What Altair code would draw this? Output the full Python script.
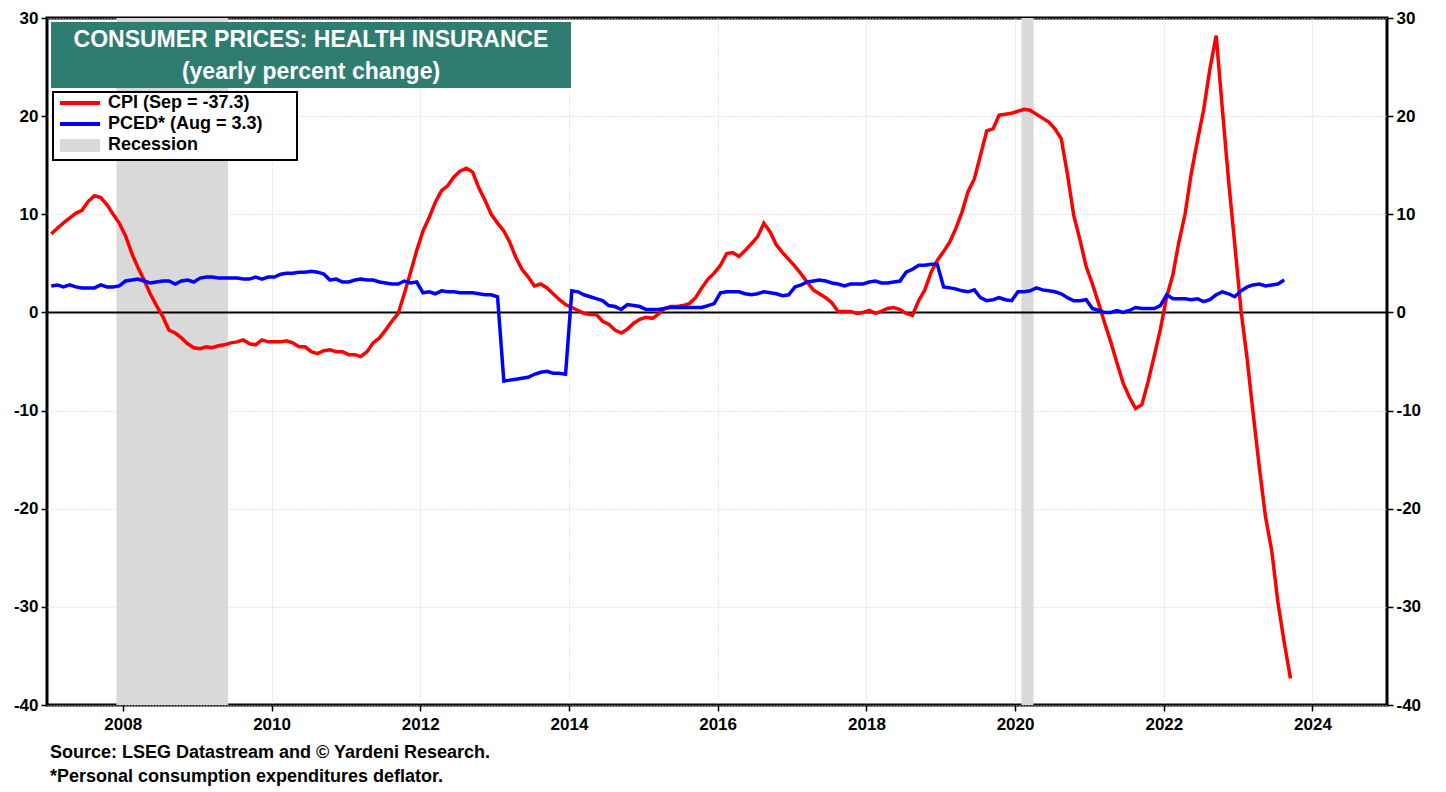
import altair as alt
import pandas as pd

# ---------------- data ----------------
cpi_2007 = [8.0, 8.6, 9.1, 9.6, 10.1, 10.4, 11.3, 11.9, 11.7, 11.0, 10.0, 9.1]
cpi_2008 = [7.8, 6.0, 4.6, 3.3, 1.9, 0.7, -0.4, -1.8, -2.1, -2.6, -3.2, -3.6]
cpi_2009 = [-3.7, -3.5, -3.6, -3.4, -3.3, -3.1, -3.0, -2.8, -3.2, -3.3, -2.8, -3.0]
cpi_2010 = [-3.0, -3.0, -2.9, -3.1, -3.5, -3.5, -4.0, -4.2, -3.9, -3.8, -4.0, -4.0]
cpi_2011 = [-4.3, -4.3, -4.5, -4.0, -3.1, -2.6, -1.8, -0.9, -0.1, 1.9, 4.1, 6.3]
cpi_2012 = [8.3, 9.7, 11.2, 12.4, 12.9, 13.8, 14.4, 14.7, 14.3, 12.7, 11.4, 10.0]
cpi_2013 = [9.1, 8.3, 7.2, 5.6, 4.4, 3.6, 2.7, 2.9, 2.5, 1.9, 1.3, 0.8]
cpi_2014 = [0.5, 0.2, -0.1, -0.2, -0.2, -0.9, -1.2, -1.8, -2.1, -1.7, -1.1, -0.7]
cpi_2015 = [-0.5, -0.6, -0.2, 0.4, 0.6, 0.6, 0.7, 0.9, 1.5, 2.5, 3.4, 4.0]
cpi_2016 = [4.8, 6.0, 6.1, 5.7, 6.3, 7.0, 7.7, 9.1, 8.2, 6.9, 6.1, 5.4]
cpi_2017 = [4.7, 3.9, 3.1, 2.3, 1.9, 1.5, 1.0, 0.1, 0.1, 0.1, -0.1, 0.0]
cpi_2018 = [0.2, -0.1, 0.1, 0.4, 0.5, 0.3, -0.1, -0.3, 1.2, 2.3, 4.1, 5.3]
cpi_2019 = [6.2, 7.2, 8.5, 10.2, 12.3, 13.6, 16.0, 18.5, 18.7, 20.1, 20.2, 20.3]
cpi_2020 = [20.5, 20.7, 20.6, 20.2, 19.8, 19.4, 18.7, 17.7, 14.0, 9.9, 7.4, 4.7]
cpi_2021 = [2.9, 0.9, -1.0, -3.0, -5.1, -7.2, -8.6, -9.8, -9.4, -7.1, -4.4, -1.7]
cpi_2022 = [1.6, 3.9, 7.1, 10.0, 14.1, 17.5, 20.6, 24.8, 28.2, 20.8, 13.4, 7.0]
cpi_2023 = [0.2, -4.9, -10.2, -15.8, -20.8, -24.3, -29.5, -33.6, -37.3]

pced_2007 = [2.7, 2.8, 2.6, 2.8, 2.6, 2.5, 2.5, 2.5, 2.8, 2.6, 2.6, 2.7]
pced_2008 = [3.2, 3.3, 3.4, 3.2, 3.0, 3.1, 3.2, 3.2, 2.9, 3.2, 3.3, 3.1]
pced_2009 = [3.5, 3.6, 3.6, 3.5, 3.5, 3.5, 3.5, 3.4, 3.4, 3.6, 3.4, 3.6]
pced_2010 = [3.6, 3.9, 4.0, 4.0, 4.1, 4.1, 4.2, 4.1, 3.9, 3.3, 3.4, 3.1]
pced_2011 = [3.1, 3.3, 3.4, 3.3, 3.3, 3.1, 3.0, 2.9, 2.9, 3.2, 3.0, 3.1]
pced_2012 = [2.0, 2.1, 1.9, 2.2, 2.1, 2.1, 2.0, 2.0, 2.0, 1.9, 1.8, 1.8]
pced_2013 = [1.6, -7.0, -6.9, -6.8, -6.7, -6.6, -6.3, -6.1, -6.0, -6.2, -6.2, -6.3]
pced_2014 = [2.2, 2.1, 1.8, 1.6, 1.4, 1.2, 0.7, 0.6, 0.3, 0.8, 0.7, 0.6]
pced_2015 = [0.3, 0.3, 0.3, 0.4, 0.5, 0.5, 0.5, 0.5, 0.5, 0.5, 0.7, 0.9]
pced_2016 = [2.0, 2.1, 2.1, 2.1, 1.9, 1.8, 1.9, 2.1, 2.0, 1.9, 1.7, 1.8]
pced_2017 = [2.6, 2.8, 3.1, 3.2, 3.3, 3.2, 3.0, 2.9, 2.7, 2.9, 2.9, 2.9]
pced_2018 = [3.1, 3.2, 3.0, 3.0, 3.1, 3.2, 4.1, 4.4, 4.8, 4.8, 4.9, 4.9]
pced_2019 = [2.6, 2.5, 2.4, 2.2, 2.1, 2.3, 1.5, 1.2, 1.3, 1.5, 1.3, 1.2]
pced_2020 = [2.1, 2.1, 2.2, 2.5, 2.3, 2.2, 2.1, 1.9, 1.5, 1.2, 1.2, 1.3]
pced_2021 = [0.4, 0.2, 0.0, 0.0, 0.2, 0.0, 0.2, 0.5, 0.4, 0.4, 0.4, 0.7]
pced_2022 = [1.8, 1.4, 1.4, 1.4, 1.3, 1.4, 1.1, 1.3, 1.8, 2.1, 1.9, 1.6]
pced_2023 = [2.2, 2.6, 2.8, 2.9, 2.7, 2.8, 2.9, 3.3]

rec_start = ["2007-12-01", "2020-02-01"]
rec_end = ["2009-06-01", "2020-04-01"]

x_tick_years = [2008, 2010, 2012, 2014, 2016, 2018, 2020, 2022, 2024]
y_ticks = [-40, -30, -20, -10, 0, 10, 20, 30]

title_lines = ["CONSUMER PRICES: HEALTH INSURANCE", "(yearly percent change)"]
legend_labels = ["CPI (Sep = -37.3)", "PCED* (Aug = 3.3)", "Recession"]
notes = ["Source: LSEG Datastream and \u00a9 Yardeni Research.",
         "*Personal consumption expenditures deflator."]

# ---------------- build tables ----------------
cpi = (cpi_2007 + cpi_2008 + cpi_2009 + cpi_2010 + cpi_2011 + cpi_2012 + cpi_2013
       + cpi_2014 + cpi_2015 + cpi_2016 + cpi_2017 + cpi_2018 + cpi_2019 + cpi_2020
       + cpi_2021 + cpi_2022 + cpi_2023)
pced = (pced_2007 + pced_2008 + pced_2009 + pced_2010 + pced_2011 + pced_2012 + pced_2013
        + pced_2014 + pced_2015 + pced_2016 + pced_2017 + pced_2018 + pced_2019 + pced_2020
        + pced_2021 + pced_2022 + pced_2023)

months = pd.date_range("2007-01-01", periods=len(cpi), freq="MS") + pd.Timedelta(days=14)
df_cpi = pd.DataFrame({"date": months, "value": cpi})
df_pced = pd.DataFrame({"date": months[:len(pced)], "value": pced})
df_rec = pd.DataFrame({"start": pd.to_datetime(rec_start), "end": pd.to_datetime(rec_end)})
one = pd.DataFrame({"k": [0]})

FONT = "Liberation Sans"
W, H = 1340, 687

x_scale = alt.Scale(domain=[alt.DateTime(year=2006, month=12, date=25),
                            alt.DateTime(year=2025, month=1, date=1)])
y_scale = alt.Scale(domain=[-40, 30], nice=False)

common_axis = dict(title=None, domain=False, tickColor="black", tickWidth=1.5, tickSize=6,
                   labelFont=FONT, labelFontSize=17, labelFontWeight="bold",
                   labelColor="black", gridColor="#cfcfcf", gridDash=[1, 2], gridWidth=1)

x_axis = alt.Axis(values=[alt.DateTime(year=y, month=1, date=1) for y in x_tick_years],
                  format="%Y", grid=True, labelPadding=5, **common_axis)
y_left = alt.Axis(values=y_ticks, orient="left", grid=True, labelPadding=3,
                  labelExpr="'' + datum.value", **common_axis)
y_right = alt.Axis(values=y_ticks, orient="right", grid=False, labelPadding=3,
                   labelExpr="'' + datum.value", **common_axis)

rec = alt.Chart(df_rec).mark_rect(color="#d9d9d9").encode(
    x=alt.X("start:T", scale=x_scale, axis=x_axis),
    x2="end:T",
)

zero = alt.Chart(one).mark_rule(color="black", strokeWidth=2).encode(
    y=alt.Y("zero:Q", scale=y_scale, axis=y_left)
).transform_calculate(zero="0")

line_cpi = alt.Chart(df_cpi).mark_line(color="#ff0000", strokeWidth=3.5).encode(
    x=alt.X("date:T", scale=x_scale, axis=x_axis),
    y=alt.Y("value:Q", scale=y_scale, axis=y_left),
)
line_pced = alt.Chart(df_pced).mark_line(color="#0000ff", strokeWidth=3.5).encode(
    x=alt.X("date:T", scale=x_scale, axis=x_axis),
    y=alt.Y("value:Q", scale=y_scale, axis=y_left),
)

main = alt.layer(rec, zero, line_cpi, line_pced)

right = alt.Chart(one).mark_rule(opacity=0).encode(
    y=alt.Y("zero:Q", scale=y_scale, axis=y_right)
).transform_calculate(zero="0")

# ---------------- title box ----------------
title_box = alt.Chart(one).mark_rect(fill="#2e7d70").encode(
    x=alt.value(4), x2=alt.value(524), y=alt.value(4), y2=alt.value(70))
title1 = alt.Chart(one).mark_text(font=FONT, fontSize=23, fontWeight="bold", color="white",
                                   align="center", baseline="middle").encode(
    x=alt.value(264), y=alt.value(22), text=alt.value(title_lines[0]))
title2 = alt.Chart(one).mark_text(font=FONT, fontSize=23, fontWeight="bold", color="white",
                                   align="center", baseline="middle").encode(
    x=alt.value(264), y=alt.value(54), text=alt.value(title_lines[1]))

# ---------------- legend ----------------
leg_box = alt.Chart(one).mark_rect(fill="white", stroke="black", strokeWidth=2).encode(
    x=alt.value(6), x2=alt.value(250), y=alt.value(74), y2=alt.value(142))
leg_red = alt.Chart(one).mark_rule(color="#ff0000", strokeWidth=4).encode(
    x=alt.value(13), x2=alt.value(53), y=alt.value(85))
leg_blue = alt.Chart(one).mark_rule(color="#0000ff", strokeWidth=4).encode(
    x=alt.value(13), x2=alt.value(53), y=alt.value(106))
leg_grey = alt.Chart(one).mark_rect(fill="#d9d9d9").encode(
    x=alt.value(13), x2=alt.value(53), y=alt.value(121), y2=alt.value(134))
leg_texts = [
    alt.Chart(one).mark_text(font=FONT, fontSize=18, fontWeight="bold", color="black",
                             align="left", baseline="middle").encode(
        x=alt.value(61), y=alt.value(yy), text=alt.value(lbl))
    for lbl, yy in zip(legend_labels, [85, 106, 127])
]

# ---------------- footnotes ----------------
note_texts = [
    alt.Chart(one).mark_text(font=FONT, fontSize=18, fontWeight="bold", color="black",
                             align="left", baseline="middle").encode(
        x=alt.value(3), y=alt.value(yy), text=alt.value(t))
    for t, yy in zip(notes, [735, 759])
]

chart = alt.layer(
    main, right, title_box, title1, title2, leg_box, leg_red, leg_blue, leg_grey,
    *leg_texts, *note_texts
).resolve_scale(y="independent").properties(
    width=W, height=H,
    autosize=alt.AutoSizeParams(type="none"),
    padding={"left": 39, "top": 10, "right": 50, "bottom": 84},
).configure_view(stroke="black", strokeWidth=3)

chart.save("out.html", embed_options={"renderer": "svg", "actions": False})
